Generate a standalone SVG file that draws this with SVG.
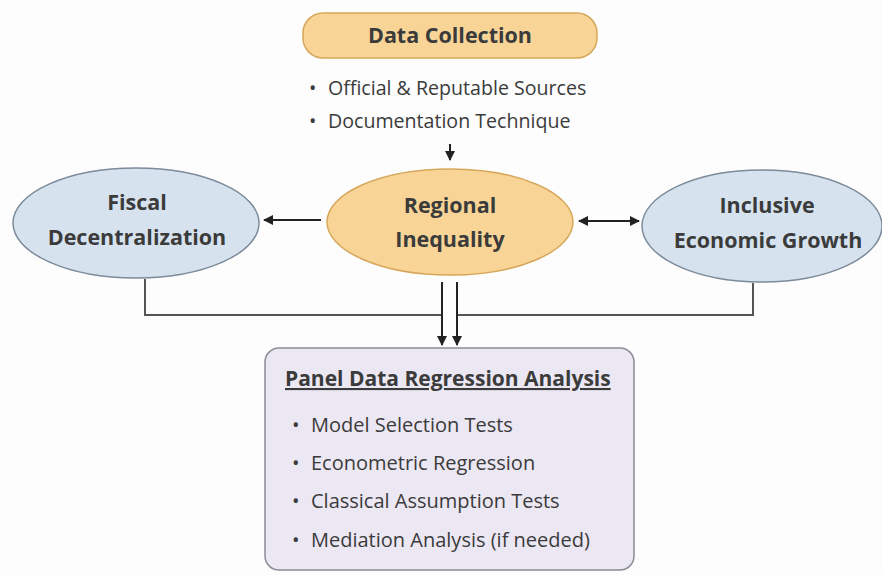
<svg xmlns="http://www.w3.org/2000/svg" width="882" height="575" viewBox="0 0 882 575">
<defs>
<style>
text{font-family:"Open Sans","Noto Sans","Liberation Sans",sans-serif;fill:#3b3b3b}
.b{font-weight:bold}
.t{font-size:21.5px;text-anchor:middle;font-weight:bold}
.l{font-size:19.6px}
.p{font-size:20px}
.line{fill:none;stroke:#555;stroke-width:2}
.arr{fill:none;stroke:#222;stroke-width:2}
.blue{fill:#d6e3ef;stroke:#7c8a99;stroke-width:1.5}
.orange{fill:#f8d596;stroke:#d6a75a;stroke-width:1.5}
</style>
<marker id="ah" viewBox="0 0 10 10" refX="9" refY="5" markerWidth="5" markerHeight="5" orient="auto-start-reverse"><path d="M0,0L10,5L0,10z" fill="#222"/></marker>
</defs>
<rect width="882" height="575" fill="#fdfdfd"/>
<g id="connectors">
<line class="arr" x1="450" y1="144" x2="450" y2="160" marker-end="url(#ah)" stroke-width="1.5"/>
<line class="arr" x1="321" y1="220" x2="264" y2="220" marker-end="url(#ah)"/>
<line class="arr" x1="579" y1="221" x2="639" y2="221" marker-start="url(#ah)" marker-end="url(#ah)"/>
<polyline class="line" points="145,279 145,315 442,315"/>
<polyline class="line" points="753,283 753,315 457,315"/>
<line class="arr" x1="442" y1="282" x2="442" y2="345" marker-end="url(#ah)"/>
<line class="arr" x1="457" y1="282" x2="457" y2="345" marker-end="url(#ah)"/>
</g>
<g id="data-collection">
<rect x="303" y="13" width="294" height="45" rx="20" class="orange"/>
<text x="450" y="43" class="t">Data Collection</text>
<text y="95" class="l"><tspan x="309">•</tspan><tspan x="328">Official &amp; Reputable Sources</tspan></text>
<text y="128" class="l"><tspan x="309">•</tspan><tspan x="328">Documentation Technique</tspan></text>
</g>
<g id="regional-inequality">
<ellipse cx="450" cy="222" rx="123" ry="53" class="orange"/>
<text x="450" y="213" class="t">Regional</text>
<text x="450" y="247" class="t">Inequality</text>
</g>
<g id="fiscal-decentralization">
<ellipse cx="136" cy="223" rx="123" ry="55" class="blue"/>
<text x="137" y="210" class="t">Fiscal</text>
<text x="137" y="245" class="t">Decentralization</text>
</g>
<g id="inclusive-growth">
<ellipse cx="762" cy="226" rx="120" ry="56" class="blue"/>
<text x="767" y="213" class="t">Inclusive</text>
<text x="768" y="248" class="t">Economic Growth</text>
</g>
<g id="panel-analysis">
<rect x="265" y="348" width="369" height="222" rx="14" fill="#ebe7f3" stroke="#8c8c98" stroke-width="1.5"/>
<text x="285" y="386" class="b" font-size="21" text-decoration="underline">Panel Data Regression Analysis</text>
<text y="432" class="p"><tspan x="292">•</tspan><tspan x="311">Model Selection Tests</tspan></text>
<text y="470" class="p"><tspan x="292">•</tspan><tspan x="311">Econometric Regression</tspan></text>
<text y="508" class="p"><tspan x="292">•</tspan><tspan x="311">Classical Assumption Tests</tspan></text>
<text y="547" class="p"><tspan x="292">•</tspan><tspan x="311">Mediation Analysis (if needed)</tspan></text>
</g>
</svg>
